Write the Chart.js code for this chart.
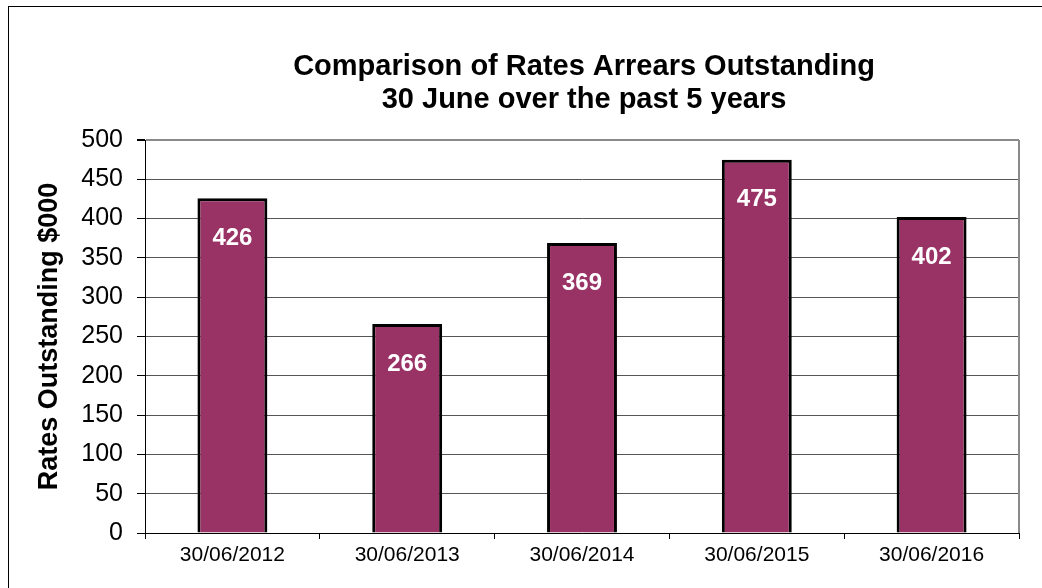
<!DOCTYPE html>
<html>
<head>
<meta charset="utf-8">
<script src="https://cdn.jsdelivr.net/npm/chart.js@4.4.0/dist/chart.umd.min.js"></script>
<style>
  html, body { margin: 0; padding: 0; background: #fff; overflow: hidden; }
  #frame { position: absolute; left: 8px; top: 6px; width: 1100px; height: 700px; border: 1px solid #000; }
  #wrap { position: absolute; left: 0; top: 0; width: 1042px; height: 588px; }
</style>
</head>
<body>
<div id="frame"></div>
<div id="wrap"><canvas id="chart" width="1042" height="588"></canvas></div>
<script>
const categories = ['30/06/2012', '30/06/2013', '30/06/2014', '30/06/2015', '30/06/2016'];
const arrears = [426, 266, 369, 475, 402];
const titleLines = ['Comparison of Rates Arrears Outstanding', '30 June over the past 5 years'];
const yTitle = 'Rates Outstanding $000';

const FONT = '"Liberation Sans", Arial, sans-serif';

// two-line title centred over the plot area (built-in title centres on the canvas)
const plotTitle = {
  id: 'plotTitle',
  afterDraw(chart) {
    const { ctx, chartArea } = chart;
    const cx = (chartArea.left + chartArea.right) / 2 + 2;
    ctx.save();
    ctx.fillStyle = '#000';
    ctx.font = 'bold 29px ' + FONT;
    ctx.textAlign = 'center';
    ctx.textBaseline = 'alphabetic';
    ctx.fillText(titleLines[0], cx, 75);
    ctx.fillText(titleLines[1], cx, 108);
    ctx.restore();
  }
};

// white value labels inside the top of each bar
const barLabels = {
  id: 'barLabels',
  afterDatasetsDraw(chart) {
    const ctx = chart.ctx;
    const meta = chart.getDatasetMeta(0);
    ctx.save();
    ctx.fillStyle = '#fff';
    ctx.font = 'bold 24px ' + FONT;
    ctx.textAlign = 'center';
    ctx.textBaseline = 'middle';
    meta.data.forEach((bar, i) => {
      ctx.fillText(String(arrears[i]), bar.x, bar.y + 40);
    });
    ctx.restore();
  }
};

// grey right edge of plot area
const plotEdge = {
  id: 'plotEdge',
  beforeDatasetsDraw(chart) {
    const { ctx, chartArea } = chart;
    ctx.save();
    ctx.strokeStyle = '#8a8a8a';
    ctx.lineWidth = 2;
    ctx.beginPath();
    ctx.moveTo(chartArea.right, chartArea.top);
    ctx.lineTo(chartArea.right, chartArea.bottom);
    ctx.stroke();
    ctx.restore();
  }
};

new Chart(document.getElementById('chart'), {
  type: 'bar',
  data: {
    labels: categories,
    datasets: [{
      data: arrears,
      backgroundColor: '#993366',
      borderColor: '#000',
      borderWidth: 3,
      barPercentage: 0.4,
      categoryPercentage: 1
    }]
  },
  options: {
    responsive: false,
    animation: false,
    layout: { padding: { left: 0, right: 23, top: 140, bottom: 0 } },
    plugins: {
      legend: { display: false },
      tooltip: { enabled: false },
      title: { display: false }
    },
    scales: {
      x: {
        afterFit(scale) { scale.height = 55; },
        grid: { offset: true, drawOnChartArea: false, tickLength: 6, tickColor: '#000' },
        border: { color: '#000', width: 1 },
        ticks: { color: '#000', font: { family: FONT, size: 21 }, padding: 4, maxRotation: 0 }
      },
      y: {
        min: 0,
        max: 500,
        afterFit(scale) { scale.width = 145; },
        ticks: { stepSize: 50, color: '#000', font: { family: FONT, size: 25 }, padding: 14 },
        grid: {
          color: (c) => c.tick && c.tick.value === 500 ? '#8a8a8a' : '#555',
          lineWidth: (c) => c.tick && c.tick.value === 500 ? 2 : 1,
          tickLength: 8,
          tickColor: '#000'
        },
        border: { color: '#000', width: 1 },
        title: {
          display: true,
          text: yTitle,
          color: '#000',
          font: { family: FONT, size: 27, weight: 'bold' },
          padding: { top: 33, bottom: 0 }
        }
      }
    }
  },
  plugins: [barLabels, plotEdge, plotTitle]
});
</script>
</body>
</html>
